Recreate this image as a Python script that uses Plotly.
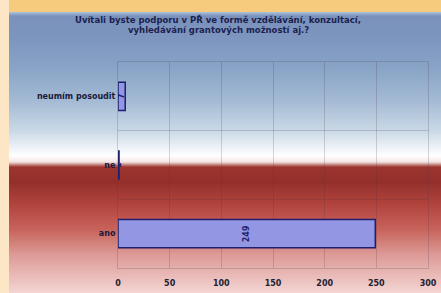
import plotly.graph_objects as go

# ---- data ----
categories = ["ano", "ne", "neumím posoudit"]
values = [249, 1, 7]
x_ticks = [0, 50, 100, 150, 200, 250, 300]
title_lines = ["Uvítali byste podporu v PŘ ve formě vzdělávání, konzultací,",
               "vyhledávání grantových možností aj.?"]

# ---- layout geometry (pixels) ----
W, H = 441, 293
L, R, T, B = 118, 13, 62, 25
PW, PH = W - L - R, H - T - B
FONT = "DejaVu Sans"


def px_x(x):
    return (x - L) / PW


def px_y(y):
    return 1 - (y - T) / PH


def hex2rgb(h):
    h = h.lstrip("#")
    return tuple(int(h[i:i + 2], 16) for i in (0, 2, 4))


def lerp(stops, y):
    for (y0, c0), (y1, c1) in zip(stops, stops[1:]):
        if y0 <= y <= y1:
            t = 0 if y1 == y0 else (y - y0) / (y1 - y0)
            a, b = hex2rgb(c0), hex2rgb(c1)
            return "rgb(%d,%d,%d)" % tuple(round(a[i] + (b[i] - a[i]) * t) for i in range(3))
    return stops[-1][1]


bg_stops = [
    (12, "#AFC2DC"), (16, "#7A92BB"), (40, "#7D96BF"), (70, "#8AA5C7"),
    (100, "#A3BAD4"), (130, "#C8D7E5"), (148, "#EEF3F7"), (156, "#FFFFFF"),
    (162, "#F3E4E2"), (167, "#9C342E"), (182, "#93302B"), (205, "#B3443E"),
    (230, "#C8645D"), (255, "#DD9B97"), (293, "#F3D5D3"),
]

shapes = []
# gradient background of chart area (overlapping strips to avoid seams)
for y in range(12, H):
    shapes.append(dict(type="rect", xref="paper", yref="paper", x0=px_x(9), x1=px_x(W + 2),
                       y0=px_y(y + 2.5), y1=px_y(y), fillcolor=lerp(bg_stops, y + 0.5),
                       line_width=0, layer="below"))
# top orange strip and left peach strip
shapes.append(dict(type="rect", xref="paper", yref="paper", x0=px_x(0), x1=px_x(W + 2),
                   y0=px_y(12), y1=px_y(-2), fillcolor="#F7CB7E", line_width=0, layer="below"))
shapes.append(dict(type="rect", xref="paper", yref="paper", x0=px_x(-2), x1=px_x(9),
                   y0=px_y(H + 2), y1=px_y(-2), fillcolor="#FCE6C6", line_width=0, layer="below"))

fig = go.Figure(go.Bar(
    x=values, y=categories, orientation="h",
    marker=dict(color="#9396E2", line=dict(color="#1E1F6E", width=1.5)),
    text=["<b>%s</b>" % v for v in values], textposition="inside", insidetextanchor="middle",
    textangle=-90, textfont=dict(family=FONT, size=8, color="#1E1F6E"),
))

fig.update_layout(
    width=W, height=H, autosize=False,
    margin=dict(l=L, r=R, t=T, b=B, pad=0),
    paper_bgcolor="#FFFFFF", plot_bgcolor="rgba(0,0,0,0)",
    bargap=0.59, showlegend=False, shapes=shapes,
    uniformtext=dict(minsize=8, mode="show"),
    font=dict(family=FONT, size=8, color="#1A1A3A"),
    annotations=[dict(xref="paper", yref="paper", x=px_x(218), y=px_y(y), text="<b>%s</b>" % t,
                      showarrow=False, font=dict(family=FONT, size=8.5, color="#1C2150"),
                      xanchor="center", yanchor="middle")
                 for t, y in zip(title_lines, [19, 30])],
)
fig.update_xaxes(range=[0, 300], tickvals=x_ticks, ticktext=["<b>%s</b>" % v for v in x_ticks],
                 automargin=False,
                 showgrid=True, gridcolor="rgba(70,50,60,0.2)", gridwidth=1,
                 zeroline=False, showline=True, linecolor="rgba(70,60,80,0.22)", mirror=True,
                 ticks="outside", ticklen=7, tickcolor="rgba(0,0,0,0)",
                 tickfont=dict(size=8, color="#222233", family=FONT))
fig.update_yaxes(type="category", categoryorder="array", categoryarray=categories,
                 tickvals=categories, ticktext=["<b>%s</b>" % c for c in categories],
                 automargin=False,
                 tickson="boundaries", showgrid=True, gridcolor="rgba(70,50,60,0.2)",
                 showline=True, linecolor="rgba(70,60,80,0.22)", mirror=True,
                 ticks="outside", ticklen=8, tickcolor="rgba(0,0,0,0)",
                 tickfont=dict(size=8, color="#1A1A3A", family=FONT))

fig.write_html("out.html", config={"displayModeBar": False},
               post_script="document.body.style.margin='0';document.body.style.overflow='hidden';")
